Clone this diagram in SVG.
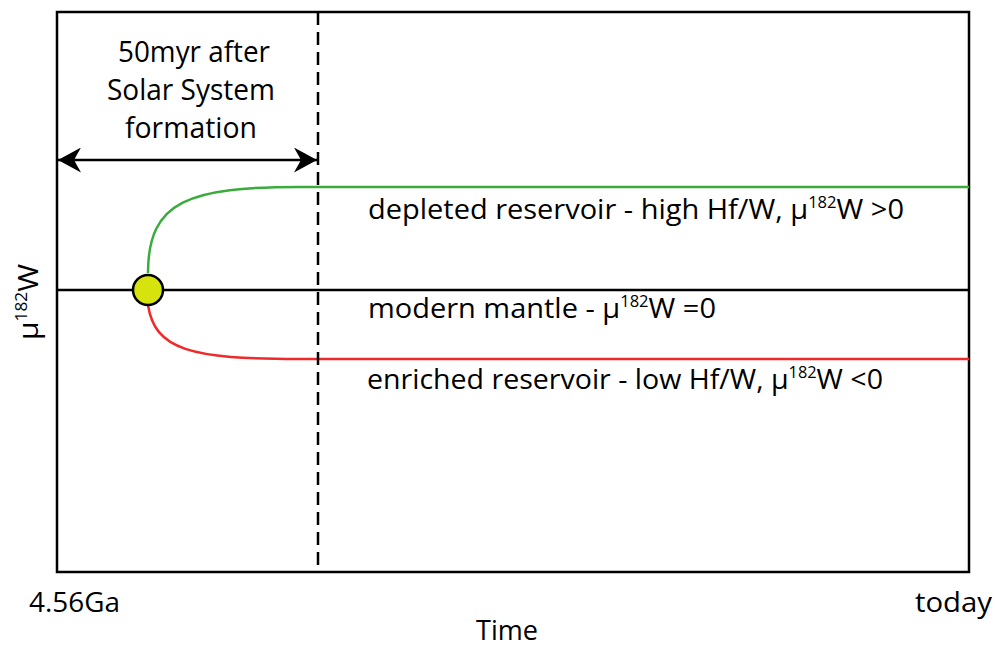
<svg xmlns="http://www.w3.org/2000/svg" width="995" height="649" viewBox="0 0 995 649">
  <defs>
    <marker id="head" viewBox="0 0 23 25" refX="23" refY="12.5" markerWidth="23" markerHeight="25" markerUnits="userSpaceOnUse" orient="auto-start-reverse">
      <path d="M0,0 L23,12.5 L0,25 L7,12.5 Z" fill="#000"/>
    </marker>
    <style>
      text { font-family: "Open Sans", "Liberation Sans", sans-serif; fill: #000; }
      .lbl { font-size: 28px; }
      .sup { font-size: 16px; }
      .axis { fill: none; stroke: #000; stroke-width: 2.5; }
    </style>
  </defs>
  <rect width="995" height="649" fill="#fff"/>

  <!-- plot frame -->
  <g id="frame">
    <rect class="axis" x="57" y="12" width="912" height="560"/>
  </g>

  <!-- reservoir curves and guide lines -->
  <g id="connectors" fill="none">
    <line x1="57" y1="290" x2="969" y2="290" stroke="#000" stroke-width="2.5"/>
    <path d="M148,273 C148,200 190,187 300,187 L969,187" stroke="#3bab3b" stroke-width="2.5"/>
    <path d="M148,305 C155,350 190,359 300,359 L969,359" stroke="#ee2a2a" stroke-width="2.5"/>
    <line x1="318" y1="12" x2="318" y2="572" stroke="#000" stroke-width="2.5" stroke-dasharray="13 7"/>
    <line x1="58" y1="160" x2="317" y2="160" stroke="#000" stroke-width="2.5" marker-start="url(#head)" marker-end="url(#head)"/>
  </g>

  <!-- divergence point -->
  <g id="origin">
    <circle cx="148" cy="290" r="15" fill="#d6e30d" stroke="#000" stroke-width="2.5"/>
  </g>

  <g id="interval-label">
    <text x="194" y="62" text-anchor="middle" font-size="29" textLength="152" lengthAdjust="spacingAndGlyphs">50myr after</text>
    <text x="191" y="100" text-anchor="middle" font-size="29" textLength="168" lengthAdjust="spacingAndGlyphs">Solar System</text>
    <text x="191" y="138" text-anchor="middle" font-size="29" textLength="132" lengthAdjust="spacingAndGlyphs">formation</text>
  </g>

  <g id="depleted">
    <text class="lbl" x="368" y="219" textLength="536" lengthAdjust="spacingAndGlyphs">depleted reservoir - high Hf/W, μ<tspan class="sup" dy="-11">182</tspan><tspan dy="11">W &gt;0</tspan></text>
  </g>
  <g id="modern">
    <text class="lbl" x="368" y="318" textLength="348" lengthAdjust="spacingAndGlyphs">modern mantle - μ<tspan class="sup" dy="-11">182</tspan><tspan dy="11">W =0</tspan></text>
  </g>
  <g id="enriched">
    <text class="lbl" x="367" y="389" textLength="516" lengthAdjust="spacingAndGlyphs">enriched reservoir - low Hf/W, μ<tspan class="sup" dy="-11">182</tspan><tspan dy="11">W &lt;0</tspan></text>
  </g>

  <g id="axis-labels">
    <text class="lbl" x="29" y="612" textLength="91" lengthAdjust="spacingAndGlyphs">4.56Ga</text>
    <text class="lbl" x="915" y="612" textLength="77" lengthAdjust="spacingAndGlyphs">today</text>
    <text x="476" y="640" font-size="27" textLength="62" lengthAdjust="spacingAndGlyphs">Time</text>
    <text class="lbl" transform="translate(38,340) rotate(-90)" x="0" y="0" textLength="76" lengthAdjust="spacingAndGlyphs">μ<tspan class="sup" dy="-11">182</tspan><tspan dy="11">W</tspan></text>
  </g>
</svg>
